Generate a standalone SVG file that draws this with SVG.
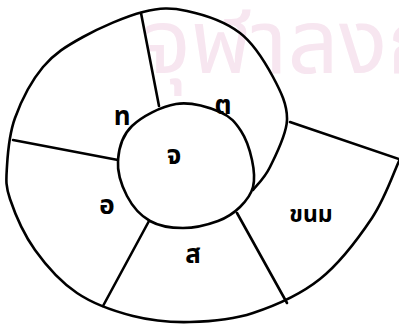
<svg xmlns="http://www.w3.org/2000/svg" width="399" height="332" viewBox="0 0 399 332">
<style>
.ln{fill:none;stroke:#000;stroke-width:2.6;stroke-linecap:round;stroke-linejoin:round}
.lb{font-family:"Noto Sans Thai","Noto Sans","DejaVu Sans",sans-serif;font-size:26px;font-weight:bold;fill:#000;text-anchor:middle}
.wm{font-family:"Noto Sans Thai","Noto Sans","DejaVu Sans",sans-serif;font-size:90px;fill:#f7e6f0}
</style>
<rect width="399" height="332" fill="#fff"/>
<text class="wm" x="143" y="73">จุฬาลงก</text>
<g id="connectors">
<path class="ln" d="M399,161 C394.5,170.5 385.2,198.3 372,218 C358.8,237.7 339.8,263.2 320,279 C300.2,294.8 274.7,305.8 253,313 C231.3,320.2 210,321.5 190,322 C170,322.5 151.8,320.8 133,316 C114.2,311.2 93.3,304 77,293 C60.7,282 46.2,265.7 35,250 C23.8,234.3 14.7,213 10,199 C5.3,185 6.2,179.5 7,166 C7.8,152.5 9,134.5 15,118 C21,101.5 31.7,80.5 43,67 C54.3,53.5 66.3,46.2 83,37 C99.7,27.8 125.7,16.3 143,12 C160.3,7.7 170.8,7.5 187,11 C203.2,14.5 225.7,22 240,33 C254.3,44 265.2,62.5 273,77 C280.8,91.5 287.5,105 287,120 C286.5,135 275.7,155.3 270,167 C264.3,178.7 255.8,186.2 253,190"/>
<path class="ln" d="M290,122 L399,159"/>
<path class="ln" d="M176,104 C190.7,101.7 209.2,107.5 220,112 C230.8,116.5 235.7,123 241,131 C246.3,139 250,150.7 252,160 C254,169.3 255,179.2 253,187 C251,194.8 245.8,201.3 240,207 C234.2,212.7 227.5,217.5 218,221 C208.5,224.5 194.3,228 183,228 C171.7,228 159.3,226.3 150,221 C140.7,215.7 132.3,206.2 127,196 C121.7,185.8 117.2,171.7 118,160 C118.8,148.3 122.3,135.3 132,126 C141.7,116.7 161.3,106.3 176,104 Z"/>
<path class="ln" d="M141,13 L159,106"/>
<path class="ln" d="M13,140 L118,160"/>
<path class="ln" d="M149,221 L103,306"/>
<path class="ln" d="M237,213 L287,303"/>
</g>
<g id="node-t"><text class="lb" x="122" y="125">ท</text></g>
<g id="node-d"><text class="lb" x="223" y="114">ต</text></g>
<g id="node-c"><text class="lb" x="174" y="164">จ</text></g>
<g id="node-o"><text class="lb" x="107" y="214">อ</text></g>
<g id="node-s"><text class="lb" x="193" y="263">ส</text></g>
<g id="node-k"><text class="lb" x="311" y="222" style="font-size:23px">ขนม</text></g>
</svg>
